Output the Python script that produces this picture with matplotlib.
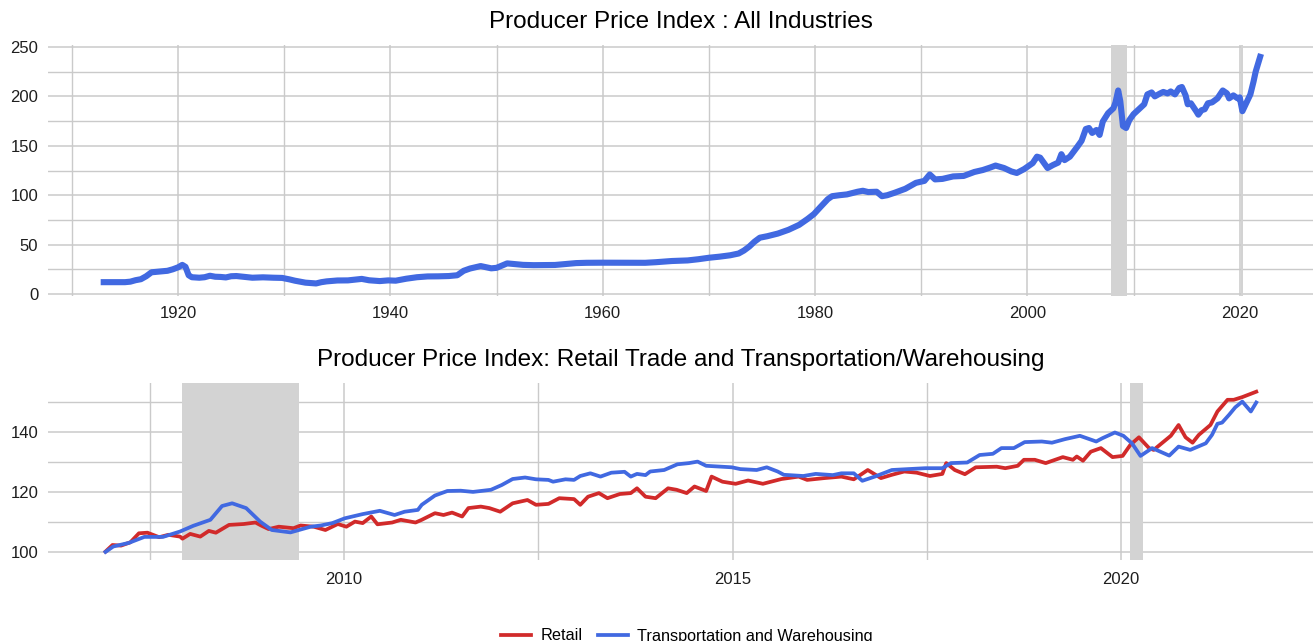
import numpy as np
import matplotlib
matplotlib.use("Agg")
import matplotlib.pyplot as plt
from matplotlib.ticker import MultipleLocator, FixedLocator

plt.rcParams['font.family'] = ['Liberation Sans', 'DejaVu Sans']

# ======================================================
# DATA
# ======================================================
# PPI all commodities (top panel), decimal year / index value
ppi_year = [
    1913.0, 1914.0, 1915.0, 1915.5, 1916.0, 1916.5, 1917.0, 1917.5, 1918.0, 1918.5,
    1919.0, 1919.5, 1920.0, 1920.4, 1920.7, 1921.0, 1921.3, 1922.0, 1922.5, 1923.0,
    1923.5, 1924.0, 1924.5, 1925.0, 1925.5, 1926.0, 1927.0, 1928.0, 1929.0, 1929.8,
    1930.5, 1931.0, 1932.0, 1933.0, 1933.5, 1934.0, 1935.0, 1936.0, 1937.3, 1938.0,
    1939.0, 1939.8, 1940.5, 1941.5, 1942.5, 1943.5, 1944.5, 1945.5, 1946.3, 1946.9,
    1947.5, 1948.5, 1949.5, 1950.0, 1951.0, 1951.5, 1952.5, 1953.5, 1954.5, 1955.5,
    1956.5, 1957.5, 1958.5, 1960.0, 1962.0, 1964.0, 1965.0, 1966.5, 1968.0, 1969.0,
    1970.0, 1971.0, 1972.0, 1972.8, 1973.3, 1973.8, 1974.3, 1974.8, 1975.5, 1976.5,
    1977.5, 1978.5, 1979.3, 1979.9, 1980.5, 1981.2, 1981.6, 1982.3, 1983.0, 1984.0,
    1984.5, 1985.0, 1985.8, 1986.3, 1986.8, 1987.5, 1988.5, 1989.5, 1990.3, 1990.8,
    1991.3, 1992.0, 1993.0, 1994.0, 1995.0, 1995.8, 1996.5, 1997.0, 1997.8, 1998.5,
    1999.0, 1999.7, 2000.5, 2000.9, 2001.2, 2001.9, 2002.4, 2002.9, 2003.2, 2003.5,
    2004.0, 2004.7, 2005.1, 2005.5, 2005.8, 2006.1, 2006.5, 2006.8, 2007.1, 2007.6,
    2008.1, 2008.3, 2008.55, 2008.75, 2009.0, 2009.3, 2009.6, 2010.0, 2010.4, 2011.0,
    2011.3, 2011.7, 2012.0, 2012.5, 2012.8, 2013.2, 2013.5, 2013.9, 2014.3, 2014.55,
    2014.9, 2015.1, 2015.4, 2015.9, 2016.1, 2016.4, 2016.7, 2017.0, 2017.4, 2017.9,
    2018.4, 2018.8, 2019.0, 2019.4, 2019.8, 2020.0, 2020.25, 2020.6, 2021.0, 2021.3,
    2021.5, 2021.7, 2021.92,
]
ppi_value = [
    12.0, 12.0, 12.0, 12.5, 14.0, 15.0, 18.0, 22.0, 22.5, 23.0,
    23.5, 25.0, 27.0, 29.5, 27.5, 19.0, 17.0, 16.5, 17.0, 18.5,
    17.5, 17.3, 16.8, 18.0, 18.2, 17.6, 16.5, 16.9, 16.5, 16.3,
    14.8, 13.5, 11.5, 10.7, 12.0, 12.8, 13.7, 13.8, 15.3, 13.9,
    13.1, 13.8, 13.5, 15.5, 17.0, 17.8, 17.9, 18.2, 19.0, 23.5,
    25.8, 28.3, 26.0, 26.5, 31.0, 30.5, 29.5, 29.2, 29.3, 29.4,
    30.4, 31.3, 31.6, 31.7, 31.6, 31.6, 32.2, 33.4, 34.0, 35.2,
    36.7, 37.8, 39.2, 41.0, 44.0, 48.0, 53.0, 57.0, 58.5, 61.2,
    65.0, 70.0, 76.0, 81.0, 88.0, 96.0, 99.0, 100.0, 100.8, 103.5,
    104.5, 103.2, 103.5, 99.0, 100.0, 102.5, 106.5, 112.5, 114.5, 121.0,
    116.0, 116.5, 119.0, 119.5, 123.5, 125.5, 128.0, 130.0, 127.5, 124.0,
    122.5, 126.5, 132.5, 139.0, 138.0, 127.5, 130.5, 133.0, 141.5, 135.5,
    139.0, 149.0, 155.0, 167.0, 168.0, 163.0, 166.0, 161.0, 174.5, 183.0,
    188.0, 194.0, 206.0, 195.0, 170.0, 168.0, 176.0, 182.0, 186.0, 192.0,
    202.0, 204.0, 200.0, 203.0, 204.5, 203.0, 205.0, 202.0, 208.5, 209.5,
    201.0, 192.0, 193.0, 185.0, 181.5, 186.0, 187.0, 193.0, 194.0, 198.0,
    206.0, 203.0, 198.0, 201.0, 198.0, 199.0, 185.0, 193.0, 202.0, 215.0,
    225.0, 232.0, 240.0,
]

# Retail trade PPI, indexed (bottom panel)
retail_year = [
    2006.93, 2007.02, 2007.13, 2007.25, 2007.36, 2007.47, 2007.62, 2007.74, 2007.89, 2007.92,
    2008.02, 2008.15, 2008.26, 2008.35, 2008.52, 2008.71, 2008.86, 2008.94, 2009.03, 2009.16,
    2009.35, 2009.44, 2009.61, 2009.76, 2009.92, 2010.03, 2010.14, 2010.24, 2010.35, 2010.43,
    2010.62, 2010.73, 2010.92, 2011.0, 2011.17, 2011.28, 2011.39, 2011.52, 2011.6, 2011.76,
    2011.87, 2012.01, 2012.17, 2012.36, 2012.47, 2012.63, 2012.77, 2012.96, 2013.04, 2013.14,
    2013.28, 2013.39, 2013.55, 2013.69, 2013.77, 2013.88, 2014.01, 2014.17, 2014.28, 2014.41,
    2014.51, 2014.66, 2014.73, 2014.87, 2015.04, 2015.20, 2015.39, 2015.63, 2015.85, 2015.96,
    2016.18, 2016.40, 2016.56, 2016.74, 2016.91, 2017.05, 2017.21, 2017.37, 2017.54, 2017.70,
    2017.75, 2017.86, 2017.99, 2018.13, 2018.40, 2018.51, 2018.67, 2018.75, 2018.89, 2019.03,
    2019.25, 2019.38, 2019.43, 2019.51, 2019.61, 2019.74, 2019.89, 2020.02, 2020.12, 2020.23,
    2020.36, 2020.42, 2020.64, 2020.74, 2020.83, 2020.92, 2021.0, 2021.15, 2021.24, 2021.37,
    2021.45, 2021.56, 2021.74,
]
retail_value = [
    100.1, 102.3, 102.1, 103.2, 106.2, 106.4, 104.9, 105.7, 105.1, 104.4,
    106.0, 105.1, 107.0, 106.4, 109.0, 109.3, 109.8, 108.7, 107.6, 108.4,
    107.9, 108.8, 108.4, 107.3, 109.3, 108.4, 110.1, 109.6, 111.8, 109.2,
    109.8, 110.7, 109.8, 110.7, 112.9, 112.3, 113.1, 111.8, 114.6, 115.1,
    114.6, 113.4, 116.2, 117.3, 115.7, 116.0, 117.9, 117.6, 115.7, 118.4,
    119.6, 117.9, 119.3, 119.6, 121.2, 118.4, 117.9, 121.2, 120.7, 119.6,
    121.8, 120.3, 125.1, 123.4, 122.7, 123.8, 122.7, 124.3, 125.1, 124.0,
    124.6, 125.1, 124.2, 127.3, 124.6, 125.7, 126.8, 126.4, 125.3, 126.0,
    129.6, 127.3, 125.9, 128.2, 128.4, 127.9, 128.7, 130.7, 130.7, 129.6,
    131.6, 130.7, 131.8, 130.4, 133.4, 134.6, 131.6, 132.0, 135.7, 138.2,
    134.6, 134.0, 138.7, 142.3, 138.2, 136.4, 139.0, 142.3, 146.8, 150.7,
    150.7, 151.6, 153.4,
]

# Transportation and warehousing PPI, indexed (bottom panel)
trans_year = [
    2006.93, 2007.03, 2007.23, 2007.43, 2007.67, 2007.89, 2008.06, 2008.28, 2008.43, 2008.56,
    2008.74, 2008.92, 2009.07, 2009.31, 2009.57, 2009.70, 2009.85, 2010.01, 2010.24, 2010.46,
    2010.65, 2010.78, 2010.95, 2011.0, 2011.17, 2011.33, 2011.5, 2011.66, 2011.89, 2012.03,
    2012.17, 2012.33, 2012.47, 2012.63, 2012.69, 2012.85, 2012.96, 2013.04, 2013.17, 2013.30,
    2013.44, 2013.61, 2013.69, 2013.77, 2013.88, 2013.94, 2014.12, 2014.29, 2014.44, 2014.55,
    2014.66, 2014.99, 2015.10, 2015.31, 2015.44, 2015.58, 2015.66, 2015.91, 2016.07, 2016.29,
    2016.40, 2016.56, 2016.67, 2016.83, 2017.05, 2017.26, 2017.48, 2017.70, 2017.81, 2018.02,
    2018.18, 2018.35, 2018.46, 2018.62, 2018.76, 2018.98, 2019.11, 2019.28, 2019.47, 2019.68,
    2019.76, 2019.92, 2020.03, 2020.14, 2020.25, 2020.40, 2020.62, 2020.74, 2020.89, 2021.09,
    2021.17, 2021.24, 2021.30, 2021.39, 2021.47, 2021.56, 2021.67, 2021.74,
]
trans_value = [
    100.0, 101.8, 103.0, 105.0, 105.0, 106.8, 108.7, 110.7, 115.3, 116.2,
    114.6, 110.1, 107.3, 106.5, 108.4, 108.8, 109.6, 111.2, 112.6, 113.7,
    112.3, 113.4, 114.0, 115.7, 118.8, 120.3, 120.4, 120.0, 120.7, 122.3,
    124.3, 124.8, 124.2, 124.0, 123.4, 124.2, 124.0, 125.3, 126.2, 125.1,
    126.4, 126.7, 125.1, 126.0, 125.6, 126.8, 127.3, 129.2, 129.6, 130.1,
    128.7, 128.2, 127.6, 127.3, 128.2, 126.8, 125.7, 125.3, 126.0, 125.6,
    126.2, 126.2, 123.7, 125.1, 127.3, 127.6, 127.9, 127.9, 129.6, 129.8,
    132.3, 132.7, 134.6, 134.6, 136.6, 136.8, 136.4, 137.6, 138.7, 136.8,
    137.9, 139.8, 138.7, 136.2, 132.0, 134.6, 132.1, 135.1, 134.0, 136.2,
    139.0, 142.7, 143.1, 145.7, 148.2, 150.1, 146.8, 149.8,
]

# Recessions (start, end)
recessions = [(2007.92, 2009.42), (2020.12, 2020.28)]

TITLE_TOP = "Producer Price Index : All Industries"
TITLE_BOTTOM = "Producer Price Index: Retail Trade and Transportation/Warehousing"

# ======================================================
# STYLE
# ======================================================
BLUE = "#4169E1"
RED = "#D12A2A"
GRID = "#CACACA"
SHADE = "#D3D3D3"
TEXT = "#1e1e1e"


def stile_asse(ax):
    for s in ax.spines.values():
        s.set_visible(False)
    ax.grid(which="major", color=GRID, linewidth=1.1, zorder=0)
    ax.grid(which="minor", color=GRID, linewidth=1.0, zorder=0)
    ax.tick_params(which="both", length=0, labelsize=12, colors=TEXT)
    ax.tick_params(axis="x", pad=7)
    ax.tick_params(axis="y", pad=7)
    ax.set_axisbelow(True)


fig = plt.figure(figsize=(13.15, 6.41), dpi=100)

# ---- top panel ----
ax1 = fig.add_axes([48 / 1315, 1 - 296 / 641, 1265 / 1315, 251 / 641])
stile_asse(ax1)
for a, b in recessions:
    ax1.axvspan(a, b, color=SHADE, lw=0, zorder=1)
ax1.plot(ppi_year, ppi_value, color=BLUE, lw=4.4, solid_joinstyle="round", zorder=3)
ax1.set_xlim(1907.75, 2026.9)
ax1.set_ylim(-2, 252)
ax1.xaxis.set_major_locator(FixedLocator([1920, 1940, 1960, 1980, 2000, 2020]))
ax1.xaxis.set_minor_locator(FixedLocator([1910, 1930, 1950, 1970, 1990, 2010]))
ax1.yaxis.set_major_locator(MultipleLocator(50))
ax1.yaxis.set_minor_locator(FixedLocator([25, 75, 125, 175, 225]))
fig.text(0.5175, 1 - 22 / 641, TITLE_TOP, ha="center", va="center", fontsize=17.5, color="black")

# ---- bottom panel ----
ax2 = fig.add_axes([48 / 1315, 1 - 560 / 641, 1265 / 1315, 177 / 641])
stile_asse(ax2)
for a, b in recessions:
    ax2.axvspan(a, b, color=SHADE, lw=0, zorder=1)
ax2.plot(retail_year, retail_value, color=RED, lw=2.7, label="Retail", zorder=3)
ax2.plot(trans_year, trans_value, color=BLUE, lw=2.7, label="Transportation and Warehousing", zorder=4)
ax2.set_xlim(2006.19, 2022.47)
ax2.set_ylim(97.3, 156.3)
ax2.xaxis.set_major_locator(FixedLocator([2010, 2015, 2020]))
ax2.xaxis.set_minor_locator(FixedLocator([2007.5, 2012.5, 2017.5]))
ax2.yaxis.set_major_locator(FixedLocator([100, 120, 140]))
ax2.yaxis.set_minor_locator(FixedLocator([110, 130, 150]))
ax2.tick_params(axis="x", pad=9)
fig.text(0.5175, 1 - 360 / 641, TITLE_BOTTOM, ha="center", va="center", fontsize=17.5, color="black")

fig.legend(loc="center", bbox_to_anchor=(687 / 1315, 1 - 636 / 641), ncol=2, frameon=False,
           fontsize=11.7, handlelength=1.85, handletextpad=0.6, columnspacing=0.9)

fig.savefig("out.png", dpi=100)
